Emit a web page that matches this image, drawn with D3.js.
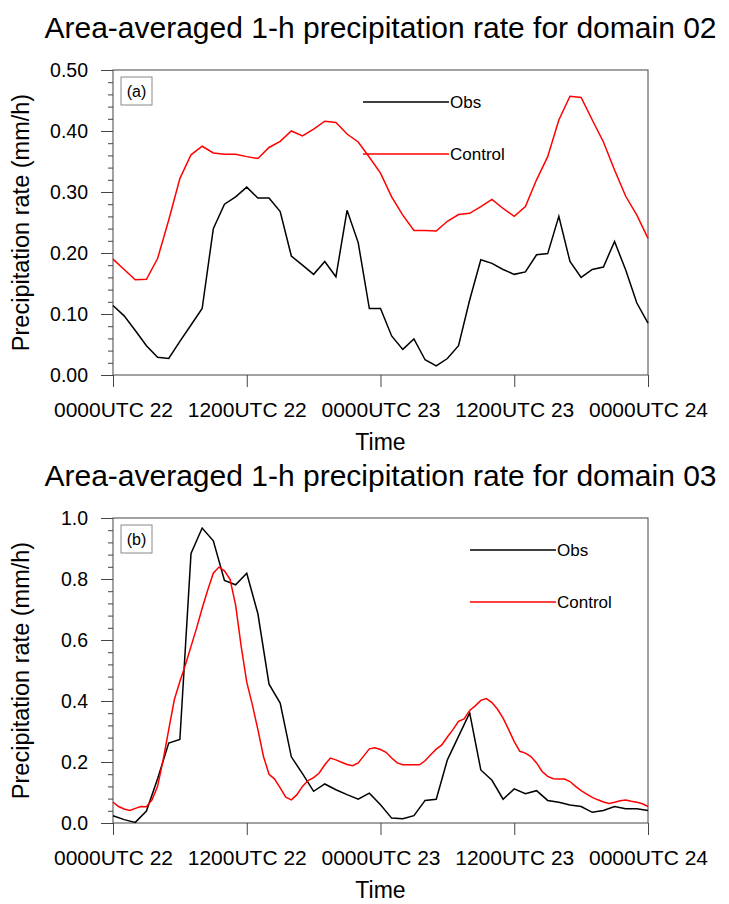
<!DOCTYPE html>
<html>
<head>
<meta charset="utf-8">
<script src="https://cdn.jsdelivr.net/npm/d3@7"></script>
<style>
  body { margin: 0; background: #fff; }
  svg { font-family: "Liberation Sans", Arial, Helvetica, sans-serif; }
</style>
</head>
<body>
<svg width="729" height="904"></svg>
<script>
// hourly times 0..48 (from 0000UTC 22), half-hourly for domain 03 control
const hours = d3.range(0, 49);
const halfHours = d3.range(0, 97).map((k) => k / 2);

const timeTicks = [0, 12, 24, 36, 48];
const timeLabels = ["0000UTC 22", "1200UTC 22", "0000UTC 23", "1200UTC 23", "0000UTC 24"];

// domain 02
const obs02 = [
  0.114, 0.097, 0.073, 0.048, 0.029, 0.027, 0.055, 0.082, 0.109, 0.240, 0.280, 0.292, 0.308,
  0.290, 0.290, 0.268, 0.195, 0.180, 0.165, 0.186, 0.161, 0.270, 0.217, 0.109, 0.109,
  0.064, 0.042, 0.059, 0.025, 0.015, 0.027, 0.048, 0.123, 0.189, 0.183, 0.173, 0.165,
  0.169, 0.197, 0.199, 0.260, 0.186, 0.160, 0.173, 0.177, 0.219, 0.172, 0.118, 0.085,
];
const control02 = [
  0.190, 0.173, 0.156, 0.157, 0.191, 0.254, 0.322, 0.361, 0.375, 0.364, 0.362, 0.362, 0.358,
  0.355, 0.373, 0.383, 0.400, 0.392, 0.403, 0.416, 0.414, 0.395, 0.382, 0.357, 0.331,
  0.292, 0.262, 0.237, 0.237, 0.236, 0.252, 0.263, 0.265, 0.276, 0.288, 0.273, 0.260,
  0.276, 0.320, 0.358, 0.418, 0.457, 0.455, 0.418, 0.382, 0.336, 0.293, 0.262, 0.224,
];

// domain 03
const obs03 = [
  0.024, 0.011, 0.002, 0.039, 0.145, 0.262, 0.274, 0.884, 0.967, 0.925, 0.795, 0.781, 0.819,
  0.686, 0.455, 0.393, 0.217, 0.162, 0.104, 0.128, 0.109, 0.093, 0.078, 0.098, 0.060,
  0.016, 0.014, 0.024, 0.074, 0.078, 0.207, 0.284, 0.361, 0.174, 0.140, 0.078, 0.112,
  0.096, 0.106, 0.074, 0.068, 0.059, 0.054, 0.035, 0.041, 0.054, 0.047, 0.047, 0.041,
];
const control03 = [
  0.069, 0.054, 0.046, 0.041, 0.048, 0.054, 0.053, 0.076, 0.120, 0.207, 0.306, 0.404, 0.464,
  0.519, 0.579, 0.639, 0.704, 0.764, 0.819, 0.839, 0.827, 0.799, 0.715, 0.579, 0.462,
  0.388, 0.306, 0.218, 0.160, 0.144, 0.115, 0.085, 0.076, 0.093, 0.120, 0.139, 0.149, 0.164,
  0.191, 0.213, 0.207, 0.199, 0.192, 0.188, 0.197, 0.220, 0.243, 0.247, 0.241, 0.232,
  0.213, 0.197, 0.191, 0.191, 0.191, 0.191, 0.204, 0.224, 0.242, 0.256, 0.282, 0.306, 0.333,
  0.341, 0.369, 0.384, 0.402, 0.408, 0.395, 0.373, 0.344, 0.306, 0.267,
  0.235, 0.229, 0.218, 0.197, 0.169, 0.153, 0.145, 0.144, 0.144, 0.136, 0.120, 0.106,
  0.095, 0.084, 0.076, 0.069, 0.064, 0.068, 0.073, 0.075, 0.071, 0.068, 0.063, 0.054,
];

const yTicks02 = [0, 0.1, 0.2, 0.3, 0.4, 0.5];
const yTicks03 = [0, 0.2, 0.4, 0.6, 0.8, 1.0];

const panels = [
  {
    title: "Area-averaged 1-h precipitation rate for domain 02",
    tag: "(a)", top: 70, bottom: 375, ymax: 0.5,
    ticks: yTicks02, minor: 0.02, fmt: d3.format(".2f"),
    obs: obs02, obsT: hours, ctl: control02, ctlT: hours,
    legX: 363, legW: 86, legY: [102, 154],
  },
  {
    title: "Area-averaged 1-h precipitation rate for domain 03",
    tag: "(b)", top: 518, bottom: 823, ymax: 1.0,
    ticks: yTicks03, minor: 0.04, fmt: d3.format(".1f"),
    obs: obs03, obsT: hours, ctl: control03, ctlT: halfHours,
    legX: 470, legW: 86, legY: [550, 602],
  },
];

const svg = d3.select("svg");
const left = 113, right = 648;
const x = d3.scaleLinear().domain([0, 48]).range([left, right]);

panels.forEach((p) => {
  const y = d3.scaleLinear().domain([0, p.ymax]).range([p.bottom, p.top]);
  const g = svg.append("g");

  g.append("text")
    .attr("x", (left + right) / 2)
    .attr("y", p.top - 32)
    .attr("text-anchor", "middle")
    .attr("font-size", "30px")
    .text(p.title);

  // minor y ticks
  const minorTicks = d3.range(0, p.ymax + 1e-9, p.minor);
  g.append("g")
    .attr("transform", `translate(${left},0)`)
    .call(d3.axisLeft(y).tickValues(minorTicks).tickSize(5).tickFormat(""))
    .call((a) => a.select(".domain").remove())
    .call((a) => a.selectAll("line").attr("stroke", "#444"));

  // major y ticks
  g.append("g")
    .attr("transform", `translate(${left},0)`)
    .call(d3.axisLeft(y).tickValues(p.ticks).tickSize(12).tickPadding(13).tickFormat(p.fmt))
    .call((a) => a.select(".domain").remove())
    .call((a) => a.selectAll("line").attr("stroke", "#444"))
    .call((a) => a.selectAll("text")
      .attr("font-size", "19.5px")
      .attr("font-family", "Liberation Sans, Arial, sans-serif")
      .attr("fill", "#000"));

  // x axis
  g.append("g")
    .attr("transform", `translate(0,${p.bottom})`)
    .call(d3.axisBottom(x).tickValues(timeTicks).tickSize(12).tickPadding(15)
      .tickFormat((d, i) => timeLabels[i]))
    .call((a) => a.select(".domain").remove())
    .call((a) => a.selectAll("line").attr("stroke", "#444"))
    .call((a) => a.selectAll("text")
      .attr("font-size", "21px")
      .attr("font-family", "Liberation Sans, Arial, sans-serif")
      .attr("fill", "#000"));

  // frame
  g.append("rect")
    .attr("x", left).attr("y", p.top)
    .attr("width", right - left).attr("height", p.bottom - p.top)
    .attr("fill", "none").attr("stroke", "#444").attr("stroke-width", 1);

  // axis titles
  g.append("text")
    .attr("x", (left + right) / 2)
    .attr("y", p.bottom + 75)
    .attr("text-anchor", "middle")
    .attr("font-size", "23px")
    .text("Time");

  g.append("text")
    .attr("transform", `translate(29,${(p.top + p.bottom) / 2}) rotate(-90)`)
    .attr("text-anchor", "middle")
    .attr("font-size", "23.5px")
    .text("Precipitation rate (mm/h)");

  // tag box
  g.append("rect")
    .attr("x", left + 8).attr("y", p.top + 7)
    .attr("width", 31).attr("height", 28)
    .attr("fill", "#fff").attr("stroke", "#888").attr("stroke-width", 1);
  g.append("text")
    .attr("x", left + 23.5).attr("y", p.top + 27)
    .attr("text-anchor", "middle")
    .attr("font-size", "16px")
    .text(p.tag);

  // series
  const line = d3.line().x((d) => x(d[0])).y((d) => y(d[1]));
  const series = [
    { name: "Obs", t: p.obsT, v: p.obs, color: "#000" },
    { name: "Control", t: p.ctlT, v: p.ctl, color: "#ff0000" },
  ];

  series.forEach((s, i) => {
    g.append("path")
      .datum(s.t.map((t, j) => [t, s.v[j]]))
      .attr("d", line)
      .attr("fill", "none")
      .attr("stroke", s.color)
      .attr("stroke-width", 1.5);

    g.append("line")
      .attr("x1", p.legX).attr("x2", p.legX + p.legW)
      .attr("y1", p.legY[i]).attr("y2", p.legY[i])
      .attr("stroke", s.color).attr("stroke-width", 1.5);
    g.append("text")
      .attr("x", p.legX + p.legW + 1)
      .attr("y", p.legY[i] + 6)
      .attr("font-size", "17px")
      .text(s.name);
  });
});
</script>
</body>
</html>
